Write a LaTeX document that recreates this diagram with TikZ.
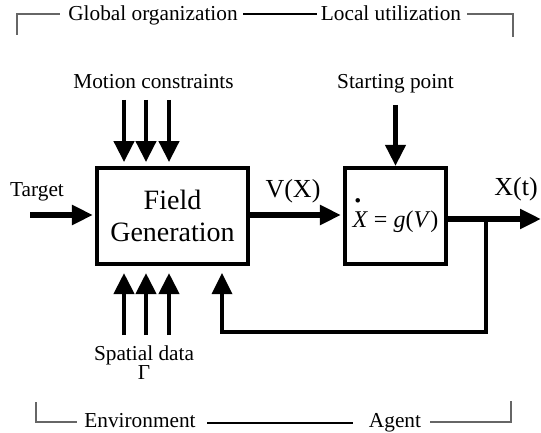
\documentclass[tikz,border=0pt]{standalone}
\usepackage{fontspec}
\setmainfont{Liberation Serif}
\usetikzlibrary{arrows.meta,calc}
\begin{document}
\begin{tikzpicture}[x=1pt,y=-1pt,
  lbl/.style={font=\fontsize{21.3}{24}\selectfont, inner sep=0pt, anchor=base},
  bigl/.style={font=\fontsize{26}{30}\selectfont, inner sep=0pt, anchor=base},
  blk/.style={draw, line width=3.3pt, inner sep=0pt},
  arr/.style={line width=4.3pt, -{Triangle[length=21pt,width=20pt]}},
  harr/.style={line width=6pt, -{Triangle[length=21pt,width=19pt]}},
  fbk/.style={line width=3.5pt, -{Triangle[length=21pt,width=20pt]}},
  brk/.style={draw=black!60, line width=1.3pt},
  midl/.style={line width=2pt}]
\useasboundingbox (0,0) rectangle (541,433);

% blocks
\node[blk, minimum width=151pt, minimum height=96pt, align=center,
      font=\fontsize{28}{32}\selectfont] (fg) at (172.5,216) {Field\\Generation};
\node[blk, minimum width=101pt, minimum height=96pt, text height=27pt, text depth=5pt,
      font=\fontsize{24}{28}\selectfont] (gb) at (395.5,216)
  {\makebox[0pt][l]{\kern0.5pt\raisebox{25pt}{\fontsize{38}{38}\selectfont .}}\textit{X} = \textit{g}(\textit{V})};

% labels
\node[lbl] (mc) at (153.5,89) {Motion constraints};
\node[lbl] (spt) at (395.5,89) {Starting point};
\node[lbl] (tg) at (37,196.5) {Target};
\node[bigl] (vx) at (293,197) {V(X)};
\node[bigl] (xt) at (516,196) {X(t)};
\node[lbl, align=center] (sd) at (144,360) {Spatial data};
\node[lbl] (gam) at (144,379.5) {Γ};

% inputs
\coordinate (tgt) at (30,215);
\draw[harr, shorten >=2.4pt] (tgt) -- (tgt -| fg.west);
\foreach \x [count=\i] in {124,146,169}{
  \coordinate (m\i) at (\x,100);
  \draw[arr, shorten >=4.3pt] (m\i) -- (m\i |- fg.north);
  \coordinate (s\i) at (\x,335);
  \draw[arr, shorten >=7.4pt] (s\i) -- (s\i |- fg.south);
}
\coordinate (sp) at (395.5,105);
\draw[arr, shorten >=0.5pt] (sp) -- (gb.north);

% V(X)
\draw[harr, shorten >=2.4pt] (fg.east |- tgt) -- (gb.west |- tgt);

% output and feedback
\coordinate (out) at (541,219);
\draw[harr] (gb.east |- out) -- (out);
\coordinate (br) at (486,219);
\coordinate (fbc) at (222,332);
\draw[fbk, shorten >=7.4pt] (br) |- (fbc) -- (fbc |- fg.south);

% top bracket
\draw[brk] (17,35) -- (17,14) -- (60,14);
\node[lbl] (go) at (153,21) {Global organization};
\draw[midl] (243,14) -- (317,14);
\node[lbl] (lu) at (391,21) {Local utilization};
\draw[brk] (467,14) -- (513,14) -- (513,37);

% bottom bracket
\draw[brk] (36,402) -- (36,422) -- (77,422);
\node[lbl] (env) at (140,427) {Environment};
\draw[midl] (207,423) -- (353,423);
\node[lbl] (ag) at (395,427) {Agent};
\draw[brk] (430,422) -- (511,422) -- (511,401);
\end{tikzpicture}
\end{document}
